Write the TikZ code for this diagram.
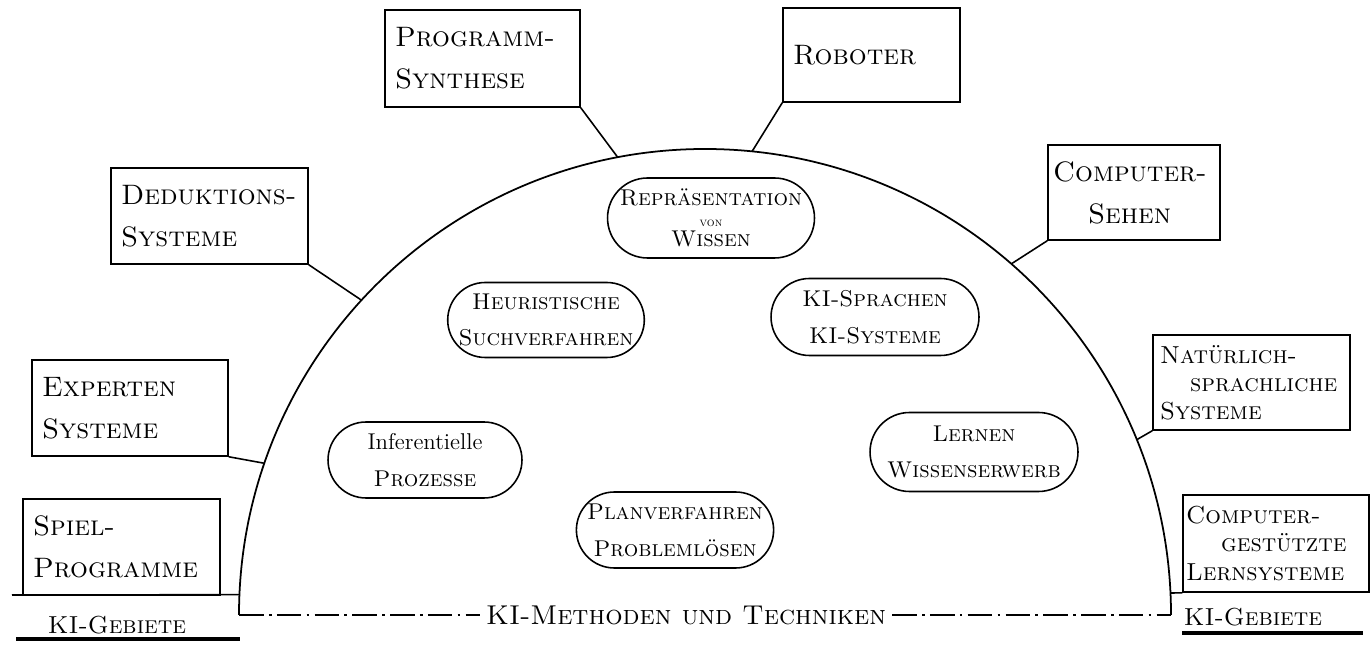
\documentclass[tikz,border=0pt]{standalone}
\usetikzlibrary{shapes.misc,calc}
\begin{document}
\begin{tikzpicture}[x=0.02cm, y=0.02cm,
    gebiet/.style={draw, line width=0.9pt, align=left, inner xsep=0.2cm, inner ysep=0pt,
        font=\fontsize{16}{24}\selectfont\scshape},
    methode/.style={draw, rounded rectangle, line width=0.9pt, align=center, inner sep=0pt,
        font=\fontsize{13}{21}\selectfont\scshape},
    rand/.style={font=\fontsize{14}{16}\selectfont\scshape}]
\useasboundingbox (0,0) rectangle (1371,645);

\coordinate (C) at (705,30);
\draw[line width=1pt] ($(C)+(180:466)$) arc[start angle=180, end angle=0, radius=466];
\foreach \w/\n in {180/kl, 0/kr, 177.5/kspiel, 161/kexpe, 137.5/kdedu, 100.8/kprog,
    84.2/krobo, 48.9/ksehen, 22.1/knatur, 2.7/klern}
{
    \coordinate (\n) at ($(C)+(\w:466)$);
}

\node[gebiet, minimum width=3.9cm, minimum height=1.94cm, text width=3.5cm] (prog) at (482.5,586.5) {Programm-\\Synthese};
\node[gebiet, minimum width=3.54cm, minimum height=1.88cm, text width=3.14cm] (robo) at (871.5,590) {Roboter};
\node[gebiet, minimum width=3.44cm, minimum height=1.9cm, inner xsep=0.1cm, text width=3.24cm] (sehen) at (1134,452.5) {Computer-\\\hspace*{0.7cm}Sehen};
\node[gebiet, minimum width=3.94cm, minimum height=1.9cm, inner xsep=0.14cm, text width=3.66cm, font=\fontsize{14}{16}\selectfont\scshape] (natur) at (1251.5,262.5) {Natürlich-\\\hspace*{0.6cm}sprachliche\\Systeme};
\node[gebiet, minimum width=3.72cm, minimum height=1.94cm, inner xsep=0.06cm, text width=3.6cm, font=\fontsize{14}{16}\selectfont\scshape] (lern) at (1276,101.5) {Computer-\\\hspace*{0.7cm}gestützte\\Lernsysteme};
\node[gebiet, minimum width=3.94cm, minimum height=1.92cm, text width=3.54cm] (dedu) at (209.5,429) {Deduktions-\\Systeme};
\node[gebiet, minimum width=3.92cm, minimum height=1.92cm, text width=3.52cm] (expe) at (130,237) {Experten\\Systeme};
\node[gebiet, minimum width=3.94cm, minimum height=1.92cm, text width=3.54cm] (spiel) at (121.5,98) {Spiel-\\Programme};

\draw[line width=0.9pt] (prog.south east) -- (kprog);
\draw[line width=0.9pt] (robo.south west) -- (krobo);
\draw[line width=0.9pt] (sehen.south west) -- (ksehen);
\draw[line width=0.9pt] (natur.south west) -- (knatur);
\draw[line width=0.9pt] (lern.south west) -- (klern);
\draw[line width=0.9pt] (dedu.south east) -- (kdedu);
\draw[line width=0.9pt] (expe.south east) -- (kexpe);
\coordinate (spielend) at (12,50);
\draw[line width=0.9pt] (spielend) -- (kspiel);

\node[methode, minimum width=4.14cm, minimum height=1.6cm, font=\fontsize{13}{11.5}\selectfont\scshape] (rep) at (711,427) {Repräsentation\\{\scriptsize von}\\Wissen};
\node[methode, minimum width=3.86cm, minimum height=1.5cm] (heur) at (546,325) {Heuristische\\Suchverfahren};
\node[methode, minimum width=4.16cm, minimum height=1.54cm] (kisp) at (875,328) {KI-Sprachen\\KI-Systeme};
\node[methode, minimum width=3.88cm, minimum height=1.52cm] (inf) at (425,185) {\normalfont\fontsize{13}{21}\selectfont Inferentielle\\\textsc{Prozesse}};
\node[methode, minimum width=4.16cm, minimum height=1.58cm] (lerw) at (974,193) {Lernen\\Wissenserwerb};
\node[methode, minimum width=3.9cm, minimum height=1.52cm] (plan) at (675,115) {Planverfahren\\Problemlösen};

\node[rand, fill=white, font=\fontsize{15.5}{17}\selectfont\scshape] (meth) at (686,30) {KI-Methoden und Techniken};
\draw[line width=0.8pt, dash pattern=on 14pt off 3pt on 1.5pt off 3pt] (kl) -- (meth.west);
\draw[line width=0.8pt, dash pattern=on 14pt off 3pt on 1.5pt off 3pt] (meth.east) -- (kr);

\node[rand] (gebl) at (117,20) {KI-Gebiete};
\node[rand] (gebr) at (1253,28) {KI-Gebiete};
\draw[line width=2.2pt] (16,6) -- (240,6);
\draw[line width=2pt] (1182,12) -- (1363,12);
\end{tikzpicture}
\end{document}
